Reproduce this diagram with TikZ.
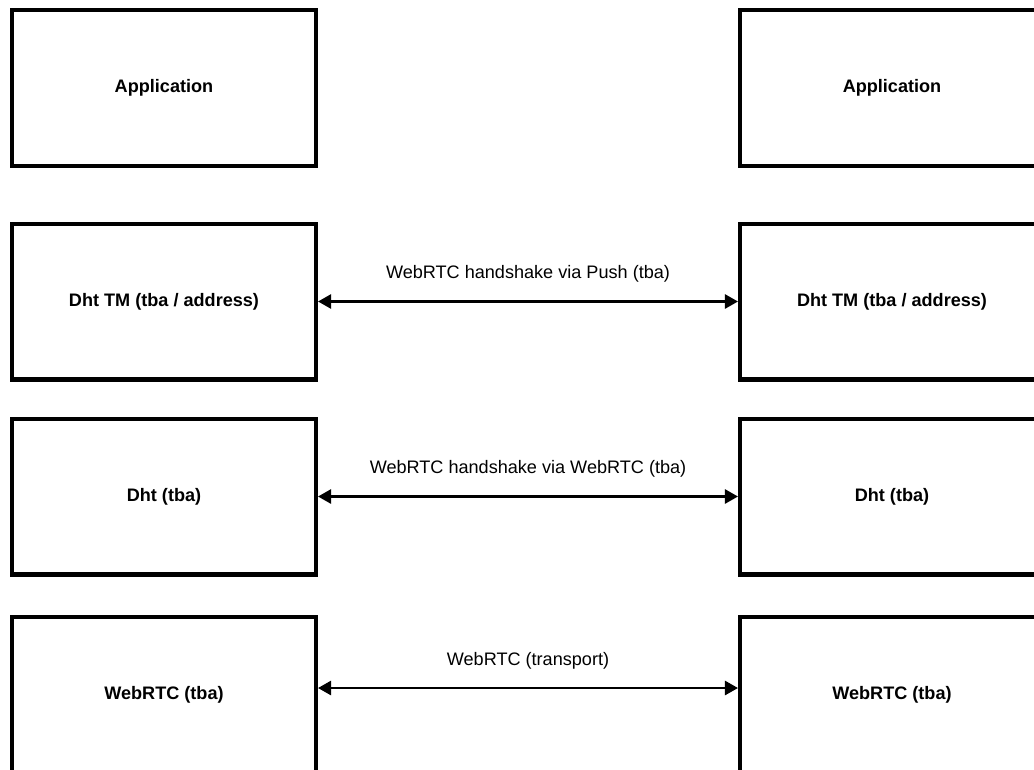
\documentclass[tikz,border=0pt]{standalone}
\usepackage{fontspec}
\setmainfont{Liberation Sans}
\usetikzlibrary{arrows.meta}

\begin{document}
\begin{tikzpicture}[x=0.02cm, y=-0.02cm,
    layer/.style={draw=black, line width=2.3pt, minimum width=6.08cm, minimum height=3.12cm,
      inner sep=0pt, font=\fontsize{10.3}{12}\selectfont\bfseries},
    link/.style={{Triangle[length=7.5pt,width=8pt]}-{Triangle[length=7.5pt,width=8pt]}, line width=1.6pt},
    lbl/.style={midway, above=2.4mm, font=\fontsize{10.3}{12}\selectfont}]
      \clip (0,0) rectangle (1034,769);
      % left stack
      \node[layer] (appL) at (164,88) {Application};
      \node[layer] (tmL) at (164,301.5) {Dht TM (tba / address)};
      \node[layer] (dhtL) at (164,496.5) {Dht (tba)};
      \node[layer] (rtcL) at (164,695) {WebRTC (tba)};
      % right stack
      \node[layer] (appR) at (892,88) {Application};
      \node[layer] (tmR) at (892,301.5) {Dht TM (tba / address)};
      \node[layer] (dhtR) at (892,496.5) {Dht (tba)};
      \node[layer] (rtcR) at (892,695) {WebRTC (tba)};
      % links
      \draw[link] (tmL) -- (tmR) node[lbl] {WebRTC handshake via Push (tba)};
      \draw[link] (dhtL) -- (dhtR) node[lbl] {WebRTC handshake via WebRTC (tba)};
      \draw[link] ([yshift=0.14cm]rtcL.east) -- ([yshift=0.14cm]rtcR.west) node[lbl] {WebRTC (transport)};
    \end{tikzpicture}
\end{document}
